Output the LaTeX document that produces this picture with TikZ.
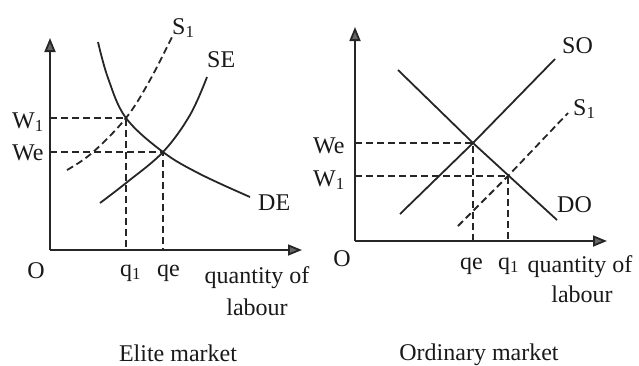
\documentclass[tikz,border=0pt]{standalone}
\usepackage{fontspec}
\setmainfont{Liberation Serif}
\usetikzlibrary{arrows.meta}
\begin{document}
\begin{tikzpicture}[x=1pt,y=-1pt,
  ink/.style={draw=black!85,line width=1.8pt},
  axis/.style={ink,-{Triangle[length=14pt,width=11pt,fill=black!60]}},
  curve/.style={ink},
  dashline/.style={ink,dash pattern=on 7pt off 4pt},
  lbl/.style={font=\fontsize{24}{28}\selectfont,inner sep=0pt,text=black!90}]
\useasboundingbox (0,0) rectangle (639,365);
% ---------- Elite market ----------
\coordinate (LO) at (50,250);
\coordinate (LY) at (50,38);
\coordinate (LX) at (302,250);
\draw[axis] (LO) -- (LY);
\draw[axis] (LO) -- (LX);
\coordinate (LA) at (126,118);
\coordinate (LB) at (163,152);
\coordinate (LW1) at (50,118);
\coordinate (LWe) at (50,152);
\coordinate (Lq1) at (126,250);
\coordinate (Lqe) at (163,250);
\draw[curve] plot[smooth,tension=0.6] coordinates {(98,42) (108,78) (LA) (LB) (200,174) (250,197)};
\draw[curve] plot[smooth,tension=0.6] coordinates {(100,203) (126,183) (LB) (190,115) (207,77)};
\draw[dashline] plot[smooth,tension=0.6] coordinates {(67,170) (92,153) (LA) (150,80) (173,35)};
\draw[dashline] (LW1) -- (LA) -- (Lq1);
\draw[dashline] (LWe) -- (LB) -- (Lqe);
\node[lbl,anchor=base west] (lS1) at (172,34) {S\textsubscript{1}};
\node[lbl,anchor=base west] (lSE) at (207,67) {SE};
\node[lbl,anchor=base west] (lDE) at (258,210) {DE};
\node[lbl,anchor=base west] (lW1) at (12,128) {W\textsubscript{1}};
\node[lbl,anchor=base west] (lWe) at (12,160) {We};
\node[lbl,anchor=base] (lO) at (36,278) {O};
\node[lbl,anchor=base west] (lq1) at (120,276) {q\textsubscript{1}};
\node[lbl,anchor=base west] (lqe) at (157,276) {qe};
\node[lbl,anchor=base] (lq) at (257,283) {quantity of};
\node[lbl,anchor=base] (ll) at (257,315) {labour};
\node[lbl,anchor=base] (lt) at (178,361) {Elite market};
% ---------- Ordinary market ----------
\coordinate (RO) at (355,241);
\coordinate (RY) at (355,27);
\coordinate (RX) at (607,241);
\draw[axis] (RO) -- (RY);
\draw[axis] (RO) -- (RX);
\coordinate (RA) at (473,143);
\coordinate (RB) at (508,176);
\coordinate (RWe) at (355,143);
\coordinate (RW1) at (355,176);
\coordinate (Rqe) at (473,241);
\coordinate (Rq1) at (508,241);
\draw[curve] (398,70) -- (RA) -- (557,220);
\draw[curve] (400,214) -- (RA) -- (555,59);
\draw[dashline] (458,226) -- (RB) -- (568,113);
\draw[dashline] (RWe) -- (RA) -- (Rqe);
\draw[dashline] (RW1) -- (RB) -- (Rq1);
\node[lbl,anchor=base west] (rSO) at (562,53) {SO};
\node[lbl,anchor=base west] (rS1) at (573,115) {S\textsubscript{1}};
\node[lbl,anchor=base west] (rDO) at (557,212) {DO};
\node[lbl,anchor=base west] (rWe) at (313,153) {We};
\node[lbl,anchor=base west] (rW1) at (313,186) {W\textsubscript{1}};
\node[lbl,anchor=base] (rO) at (342,266) {O};
\node[lbl,anchor=base west] (rqe) at (460,269) {qe};
\node[lbl,anchor=base west] (rq1) at (498,269) {q\textsubscript{1}};
\node[lbl,anchor=base] (rq) at (580,272) {quantity of};
\node[lbl,anchor=base] (rl) at (582,302) {labour};
\node[lbl,anchor=base] (rt) at (479,360) {Ordinary market};
\end{tikzpicture}
\end{document}
